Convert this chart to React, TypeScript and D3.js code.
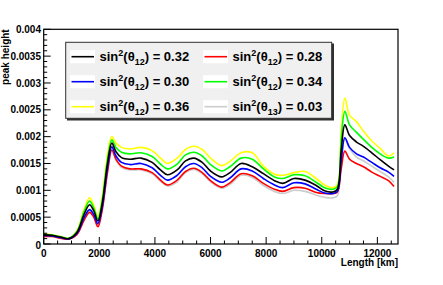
import React, {Component} from "react";
import * as d3 from "d3";

// baseline length in km
const lengthKm = [0, 300, 600, 900, 1200, 1450, 1650, 1800, 1950, 2100, 2300, 2450, 2600, 2800, 3100, 3500, 3900, 4200, 4450, 4800, 5100, 5400, 5700, 6000, 6400, 6700, 7100, 7500, 7900, 8300, 8600, 9000, 9400, 9800, 10100, 10400, 10560, 10700, 10830, 11000, 11250, 11500, 11800, 12100, 12400, 12600];

// peak heights, in units of 1e-3
const s12_032 = [0.17, 0.16, 0.13, 0.10, 0.22, 0.55, 0.73, 0.62, 0.43, 0.74, 1.52, 1.88, 1.72, 1.61, 1.58, 1.60, 1.52, 1.38, 1.29, 1.38, 1.55, 1.60, 1.52, 1.36, 1.25, 1.33, 1.50, 1.44, 1.31, 1.18, 1.13, 1.22, 1.19, 1.09, 0.99, 0.97, 1.02, 1.75, 2.22, 2.02, 1.90, 1.82, 1.70, 1.57, 1.45, 1.38];
const s12_028 = [0.14, 0.14, 0.11, 0.09, 0.18, 0.44, 0.59, 0.50, 0.32, 0.62, 1.36, 1.75, 1.58, 1.45, 1.40, 1.40, 1.33, 1.19, 1.10, 1.19, 1.35, 1.41, 1.33, 1.18, 1.06, 1.14, 1.31, 1.27, 1.13, 1.02, 0.98, 1.05, 1.04, 0.96, 0.94, 0.94, 0.97, 1.40, 1.73, 1.58, 1.50, 1.44, 1.34, 1.26, 1.18, 1.07];
const s12_030 = [0.16, 0.15, 0.12, 0.095, 0.20, 0.49, 0.64, 0.55, 0.38, 0.68, 1.44, 1.81, 1.64, 1.52, 1.48, 1.50, 1.42, 1.28, 1.19, 1.28, 1.44, 1.50, 1.42, 1.26, 1.15, 1.23, 1.40, 1.36, 1.22, 1.10, 1.05, 1.14, 1.12, 1.02, 0.95, 0.94, 0.98, 1.55, 1.98, 1.80, 1.68, 1.62, 1.52, 1.42, 1.34, 1.26];
const s12_034 = [0.18, 0.165, 0.135, 0.105, 0.24, 0.60, 0.80, 0.67, 0.47, 0.80, 1.60, 1.94, 1.80, 1.71, 1.68, 1.70, 1.63, 1.49, 1.40, 1.49, 1.66, 1.71, 1.64, 1.48, 1.36, 1.44, 1.60, 1.58, 1.40, 1.25, 1.22, 1.29, 1.27, 1.15, 1.05, 1.02, 1.07, 1.95, 2.47, 2.22, 2.08, 1.95, 1.80, 1.68, 1.60, 1.62];
const s12_036 = [0.19, 0.17, 0.14, 0.11, 0.25, 0.64, 0.86, 0.72, 0.51, 0.86, 1.68, 2.00, 1.88, 1.80, 1.77, 1.80, 1.74, 1.60, 1.50, 1.60, 1.76, 1.82, 1.76, 1.60, 1.46, 1.54, 1.70, 1.70, 1.45, 1.30, 1.28, 1.33, 1.35, 1.22, 1.10, 1.05, 1.10, 2.10, 2.72, 2.40, 2.28, 2.10, 1.92, 1.78, 1.64, 1.70];
const s13_003 = [0.15, 0.145, 0.12, 0.09, 0.19, 0.46, 0.62, 0.52, 0.35, 0.65, 1.36, 1.74, 1.56, 1.43, 1.38, 1.38, 1.31, 1.17, 1.08, 1.16, 1.33, 1.39, 1.31, 1.16, 1.04, 1.11, 1.28, 1.24, 1.09, 0.98, 0.94, 1.00, 0.98, 0.91, 0.87, 0.86, 0.90, 1.55, 1.96, 1.78, 1.62, 1.55, 1.45, 1.35, 1.25, 1.15];

const yTicks = [0, 0.0005, 0.001, 0.0015, 0.002, 0.0025, 0.003, 0.0035, 0.004];
const yTickLabels = ["0", "0.0005", "0.001", "0.0015", "0.002", "0.0025", "0.003", "0.0035", "0.004"];
const xTicks = [0, 2000, 4000, 6000, 8000, 10000, 12000];
const xTickLabels = ["0", "2000", "4000", "6000", "8000", "10000", "12000"];

const legendAngles = ["12", "12", "12", "12", "12", "13"];
const legendValues = ["0.32", "0.28", "0.30", "0.34", "0.36", "0.03"];
const seriesColors = ["#000000", "#ff0000", "#0000ff", "#00ff00", "#ffff00", "#cccccc"];
const allSeries = [s12_032, s12_028, s12_030, s12_034, s12_036, s13_003];
const drawOrder = [5, 4, 3, 1, 2, 0];

const FONT = "'Liberation Sans', Arial, Helvetica, sans-serif";

class Chart extends Component<{}, {}> {
    svgRef = React.createRef<SVGSVGElement>();

    componentDidMount() {
        const width = 443;
        const height = 285;
        const margin = {top: 29.3, right: 45, bottom: 41, left: 43.7};
        const svg: any = d3.select(this.svgRef.current);
        svg.selectAll("*").remove();
        svg.attr("width", width).attr("height", height);
        svg.append("rect").attr("width", width).attr("height", height).attr("fill", "#fff");

        const x = d3.scaleLinear().domain([0, 12742]).range([margin.left, width - margin.right]);
        const y = d3.scaleLinear().domain([0, 0.004]).range([height - margin.bottom, margin.top]);
        const x0 = x.range()[0], x1 = x.range()[1];
        const y0 = y.range()[0], y1 = y.range()[1];

        // curves
        const line = d3.line<number>()
            .x((_d: number, i: number) => x(lengthKm[i]))
            .y((d: number) => y(d * 1e-3))
            .curve(d3.curveCatmullRom.alpha(0.5));
        const lines = svg.append("g");
        drawOrder.forEach((k) => {
            lines.append("path")
                .attr("d", line(allSeries[k]))
                .attr("fill", "none")
                .attr("stroke", seriesColors[k])
                .attr("stroke-width", 1.6);
        });

        // frame
        svg.append("rect")
            .attr("x", x0).attr("y", y1)
            .attr("width", x1 - x0).attr("height", y0 - y1)
            .attr("fill", "none").attr("stroke", "#000").attr("stroke-width", 1.2);

        const axes = svg.append("g").attr("stroke", "#000").attr("stroke-width", 1);
        // y ticks, pointing inwards
        d3.range(0, 41).forEach((i: number) => {
            const v = i * 0.0001;
            const major = i % 5 === 0;
            axes.append("line")
                .attr("x1", x0).attr("x2", x0 + (major ? 7 : 3.5))
                .attr("y1", y(v)).attr("y2", y(v));
        });
        // x ticks
        d3.range(0, 26).forEach((i: number) => {
            const v = i * 500;
            const major = i % 4 === 0;
            axes.append("line")
                .attr("x1", x(v)).attr("x2", x(v))
                .attr("y1", y0).attr("y2", y0 - (major ? 7 : 3.5));
        });

        const labels = svg.append("g")
            .attr("font-family", FONT).attr("font-weight", "bold").attr("font-size", 10).attr("fill", "#000");
        yTicks.forEach((v, i) => {
            labels.append("text")
                .attr("x", 41).attr("y", y(v) + (v === 0 ? 4.5 : 3.6))
                .attr("text-anchor", "end").text(yTickLabels[i]);
        });
        xTicks.forEach((v, i) => {
            labels.append("text")
                .attr("x", x(v)).attr("y", y0 + 12.5)
                .attr("text-anchor", "middle").text(xTickLabels[i]);
        });
        labels.append("text")
            .attr("x", x1).attr("y", y0 + 22)
            .attr("text-anchor", "end").text("Length [km]");
        labels.append("text")
            .attr("transform", `translate(9,${y1}) rotate(-90)`)
            .attr("text-anchor", "end").text("peak height");

        // legend
        const lg = svg.append("g");
        lg.append("rect")
            .attr("x", 67).attr("y", 43.5).attr("width", 267).attr("height", 77)
            .attr("fill", "#303030");
        lg.append("rect")
            .attr("x", 65.7).attr("y", 42.3).attr("width", 266).attr("height", 76)
            .attr("fill", "#f0f0f0").attr("stroke", "#303030").attr("stroke-width", 1);
        const colX = [70, 203];
        const rowY = [56.7, 81.7, 106.7];
        allSeries.forEach((_s, k) => {
            const cx = colX[k % 2];
            const cy = rowY[Math.floor(k / 2)];
            lg.append("rect")
                .attr("x", cx).attr("y", cy - 6.5).attr("width", 25).attr("height", 13)
                .attr("fill", "#fff");
            lg.append("line")
                .attr("x1", cx + 1.5).attr("x2", cx + 24)
                .attr("y1", cy).attr("y2", cy)
                .attr("stroke", seriesColors[k]).attr("stroke-width", 1.6);
            const t = lg.append("text")
                .attr("x", cx + 29.5).attr("y", cy + 4.6)
                .attr("font-family", FONT).attr("font-weight", "bold").attr("font-size", 13)
                .attr("fill", "#000");
            t.append("tspan").text("sin");
            t.append("tspan").attr("font-size", 9).attr("dy", -5).text("2");
            t.append("tspan").attr("dy", 5).text("(θ");
            t.append("tspan").attr("font-size", 9).attr("dy", 3.5).text(legendAngles[k]);
            t.append("tspan").attr("dy", -3.5).text(`) = ${legendValues[k]}`);
        });
    }

    render() {
        return (
            <svg ref={this.svgRef} style={{position: "absolute", left: 0, top: 0, display: "block"}}></svg>
        );
    }
}

export default function App() {
    return <Chart />;
}
